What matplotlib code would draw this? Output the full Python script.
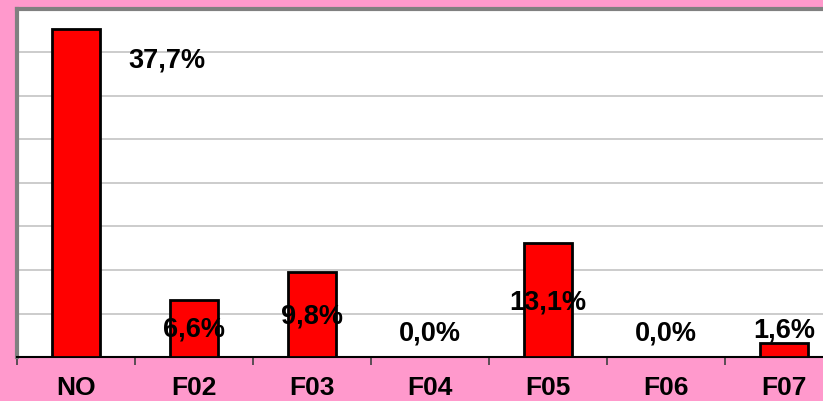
import matplotlib
matplotlib.use("Agg")
import matplotlib.pyplot as plt

# Chart data
categories = ["NO", "F02", "F03", "F04", "F05", "F06", "F07"]
values = [37.7, 6.6, 9.8, 0.0, 13.1, 0.0, 1.6]
labels = ["37,7%", "6,6%", "9,8%", "0,0%", "13,1%", "0,0%", "1,6%"]
# where the data labels sit (value units), as in the original spreadsheet export
label_y = [34.1, 3.2, 4.7, 2.75, 6.3, 2.75, 3.0]
label_dx = [0.77, 0, 0, 0, 0, 0, 0]

plt.rcParams['font.family'] = ['Liberation Sans', 'DejaVu Sans']

fig = plt.figure(figsize=(8.23, 4.01), dpi=100)
fig.patch.set_facecolor('#ff99cc')
ax = fig.add_axes([17 / 823, 44 / 401, 826 / 823, 348 / 401])
ax.set_facecolor('white')

x = range(len(categories))
ax.bar(x, values, width=0.4, color='#ff0000', edgecolor='black', linewidth=2, zorder=3)

for i, (lab, ly, dx) in enumerate(zip(labels, label_y, label_dx)):
    ax.text(i + dx, ly, lab, ha='center', va='center', fontsize=19.5,
            fontweight='bold', color='black', zorder=4)

ax.set_xlim(-0.5, 6.5)
ax.set_ylim(0, 40)
ax.set_yticks(range(0, 41, 5))
ax.yaxis.grid(True, color='#c8c8c8', linewidth=1.3, zorder=0)
ax.tick_params(axis='y', left=False, labelleft=False)

ax.set_xticks([i + 0.5 for i in range(-1, 7)], minor=True)
ax.set_xticks(list(x))
ax.set_xticklabels(categories, fontsize=19, fontweight='bold')
ax.tick_params(axis='x', which='major', length=0, pad=14)
ax.tick_params(axis='x', which='minor', length=6, width=1.2, color='#404040')

for side in ['left', 'top']:
    ax.spines[side].set_color('#808080')
    ax.spines[side].set_linewidth(3)
ax.spines['right'].set_visible(False)
ax.spines['bottom'].set_color('black')
ax.spines['bottom'].set_linewidth(1.5)

plt.savefig('out.png', dpi=100, facecolor=fig.get_facecolor())
plt.close()
